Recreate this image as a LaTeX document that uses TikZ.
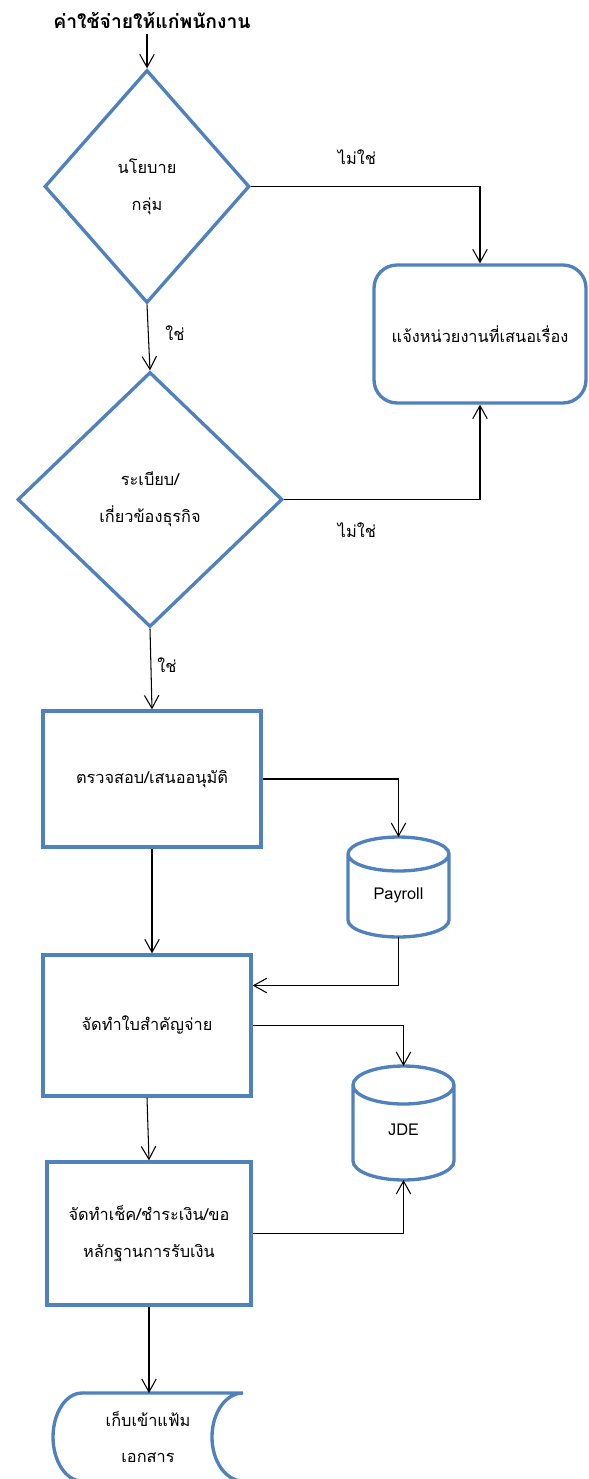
\documentclass[tikz,border=0pt]{standalone}
\usepackage{fontspec}
\newfontfamily\thaifont[Script=Thai]{Loma}
\usetikzlibrary{arrows.meta, shapes.geometric}
\definecolor{boxblue}{RGB}{79,129,189}
\newcommand{\thaitext}{\thaifont\fontsize{9.3pt}{21pt}\selectfont}

\begin{document}
\begin{tikzpicture}[x=0.02cm, y=-0.02cm]
	\tikzstyle{decision} = [diamond, draw=boxblue, line width=1.9pt, inner sep=0pt, align=center, font=\thaitext]
	\tikzstyle{process} = [rectangle, draw=boxblue, line width=1.9pt, align=center, font=\thaitext]
	\tikzstyle{notice} = [process, rounded corners=0.46cm]
	\tikzstyle{dbase} = [rectangle, minimum width=2.02cm, outer sep=0pt, text height=16pt, text depth=2pt, font=\thaitext]
	\tikzstyle{answer} = [font=\thaitext]
	\tikzstyle{flow} = [line width=0.6pt, ->, >={Straight Barb[length=2.6mm,width=2.9mm]}]
	\tikzstyle{blueline} = [draw=boxblue, line width=1.9pt]

	\useasboundingbox (0,0) rectangle (588,1479);

	\node (title) at (152,20) [font=\thaifont\bfseries\fontsize{11pt}{13pt}\selectfont] {ค่าใช้จ่ายให้แก่พนักงาน};
	\node (policy) [decision, minimum width=4.1cm, minimum height=4.66cm] at (147,186.5) {นโยบาย\\กลุ่ม};
	\node (notify) [notice, minimum width=4.24cm, minimum height=2.76cm] at (480,334) {แจ้งหน่วยงานที่เสนอเรื่อง};
	\node (rule) [decision, minimum width=5.3cm, minimum height=5.1cm] at (150,499.5) {ระเบียบ/\\เกี่ยวข้องธุรกิจ};
	\node (check) [process, minimum width=4.36cm, minimum height=2.72cm] at (152,779) {ตรวจสอบ/เสนออนุมัติ};
	\node (voucher) [process, minimum width=4.16cm, minimum height=2.82cm] at (147,1025.5) {จัดทำใบสำคัญจ่าย};
	\node (cheque) [process, minimum width=4.08cm, minimum height=2.86cm] at (149,1233.5) {จัดทำเช็ค/ชำระเงิน/ขอ\\หลักฐานการรับเงิน};
	\node (payroll) [dbase, minimum height=2cm] at (398.5,887) {Payroll};
	\node (jde) [dbase, minimum height=2.28cm] at (403.5,1123) {JDE};
	\node (archive) [minimum width=3.8cm, minimum height=1.76cm, outer sep=0pt, align=center, font=\thaitext] at (148,1437) {เก็บเข้าแฟ้ม\\เอกสาร};

	% data stores
	\foreach \db/\ry in {payroll/0.34cm, jde/0.38cm}
		\draw [blueline] ([yshift=-\ry]\db.north west) -- ([yshift=\ry]\db.south west)
			arc [start angle=180, end angle=360, x radius=1.01cm, y radius=\ry]
			-- ([yshift=-\ry]\db.north east)
			arc [start angle=0, end angle=360, x radius=1.01cm, y radius=\ry];
	\draw [blueline] ([xshift=0.58cm]archive.north west) -- (archive.north east)
		arc [start angle=90, end angle=270, x radius=0.62cm, y radius=0.88cm]
		-- ([xshift=0.58cm]archive.south west)
		arc [start angle=270, end angle=90, x radius=0.58cm, y radius=0.88cm] -- cycle;

	\node (no1) [answer] at (357,157) {ไม่ใช่};
	\node (yes1) [answer] at (175,333) {ใช่};
	\node (no2) [answer] at (357,530) {ไม่ใช่};
	\node (yes2) [answer] at (167,665) {ใช่};

	\draw [flow] (policy.north |- title.south) -- (policy.north);
	\draw [flow] (policy.east) -| (notify.north);
	\draw [flow] (policy.south) -- (rule.north);
	\draw [flow] (rule.east) -| (notify.south);
	\draw [flow] (rule.south) -- (check.north);
	\draw [flow] (check.east) -| (payroll.north);
	\draw [flow] (check.south) -- (check.south |- voucher.north);
	\draw [flow] (payroll.south) |- ([yshift=0.8cm]voucher.east);
	\draw [flow] (voucher.east) -| (jde.north);
	\draw [flow] (voucher.south) -- (cheque.north);
	\draw [flow] (cheque.east) -| (jde.south);
	\draw [flow] (cheque.south) -- (cheque.south |- archive.north);
\end{tikzpicture}
\end{document}
